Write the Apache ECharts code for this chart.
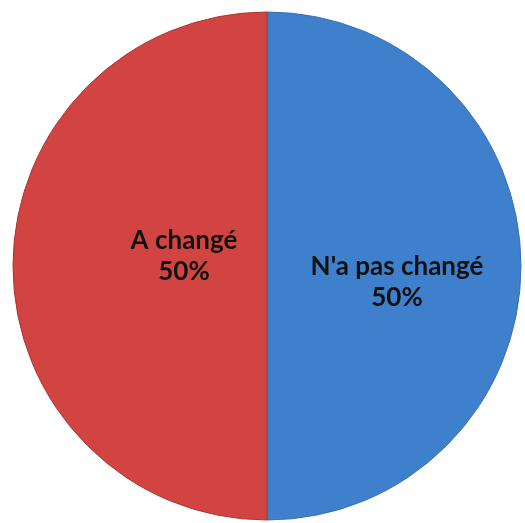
<!DOCTYPE html>
<html><head><meta charset="utf-8">
<script src="https://cdn.jsdelivr.net/npm/echarts@6/dist/echarts.min.js"></script>
<style>html,body{margin:0;padding:0;background:#fff}#c{width:525px;height:523px}</style>
</head><body><div id="c"></div>
<script>
const categories = ["N'a pas changé", "A changé"];
const values = [50, 50];
const percentLabels = ["50%", "50%"];

const colors = ['#3f80cd', '#d24441'];
const borders = ['#3a6fae', '#a93532'];
const offsets = [[0, 16], [47, -10]];

const chart = echarts.init(document.getElementById('c'));
chart.setOption({
  animation: false,
  series: [{
    type: 'pie',
    center: [267, 266],
    radius: [0, 254],
    startAngle: 90,
    clockwise: true,
    data: categories.map((n, i) => ({
      name: n, value: values[i],
      itemStyle: {color: colors[i], borderColor: borders[i], borderWidth: 1},
      label: {offset: offsets[i], formatter: n + '\n' + percentLabels[i]}
    })),
    label: {
      show: true, position: 'inside',
      color: '#111', fontFamily: 'Lato', fontWeight: 'bold', fontSize: 26, lineHeight: 31
    },
    labelLine: {show: false}
  }]
});
</script></body></html>
